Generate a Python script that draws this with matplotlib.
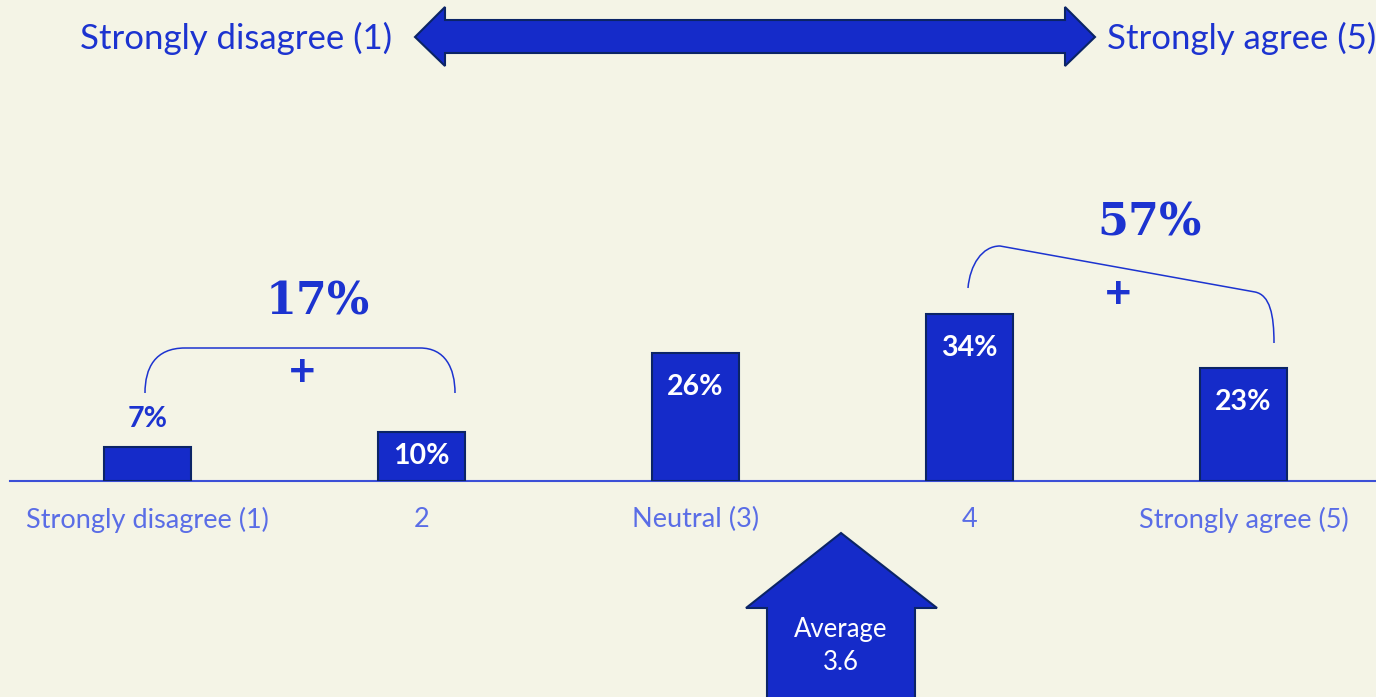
import matplotlib.pyplot as plt
from matplotlib.patches import Polygon, PathPatch
from matplotlib.path import Path

# survey answers, share of respondents in %
categories = ["Strongly disagree (1)", "2", "Neutral (3)", "4", "Strongly agree (5)"]
shares = [7, 10, 26, 34, 23]
disagree_total = 17
agree_total = 57
average = 3.6
scale_left = "Strongly disagree (1)"
scale_right = "Strongly agree (5)"

bg = '#f4f4e6'
blue = '#152bc9'
navy = '#0b2466'
text_blue = '#1c33d0'
tick_blue = '#5a6de6'
sans = ['Lato', 'DejaVu Sans']

fig = plt.figure(figsize=(13.76, 6.97), dpi=100, facecolor=bg)

# overlay in pixel coordinates for the decorations
ov = fig.add_axes([0, 0, 1, 1], facecolor='none')
ov.set_xlim(0, 1376)
ov.set_ylim(697, 0)
ov.axis('off')

# bar chart axes, baseline at y=481px
px_per_pct = 4.91
ax = fig.add_axes([10 / 1376, (697 - 481) / 697, 1366 / 1376, 381 / 697], facecolor='none')
x = list(range(len(categories)))
ax.bar(x, shares, width=0.3175, color=blue, edgecolor=navy, linewidth=1.5, zorder=3)
ax.set_xlim(-0.502, 4.484)
ax.set_ylim(0, 381 / px_per_pct)
for s in ['top', 'right', 'left']:
    ax.spines[s].set_visible(False)
ax.spines['bottom'].set_color('#3b4fd6')
ax.spines['bottom'].set_linewidth(1.5)
ax.set_yticks([])
ax.set_xticks(x)
ax.set_xticklabels(categories, color=tick_blue, fontsize=19.5, family=sans)
ax.tick_params(axis='x', length=0, pad=19)

for i, v in enumerate(shares):
    if v < 9:
        ax.annotate(f"{v}%", (i, v), xytext=(0, 20), textcoords='offset points',
                    ha='center', va='center', color=text_blue, fontsize=20.5,
                    fontweight='bold', family=sans)
    elif v < 20:
        ax.text(i, v / 2, f"{v}%", ha='center', va='center', color='white',
                fontsize=20.5, fontweight='bold', family=sans, zorder=4)
    else:
        ax.annotate(f"{v}%", (i, v), xytext=(0, -24.5), textcoords='offset points',
                    ha='center', va='center', color='white', fontsize=20.5,
                    fontweight='bold', family=sans, zorder=4)

# top double arrow
dbl = [(415, 37), (445, 7), (445, 20), (1065, 20), (1065, 7), (1095, 37),
       (1065, 66), (1065, 53), (445, 53), (445, 66)]
ov.add_patch(Polygon(dbl, closed=True, facecolor=blue, edgecolor=navy, linewidth=1.5))
ov.text(392, 38, scale_left, ha='right', va='center', color=text_blue, fontsize=25, family=sans)
ov.text(1107, 38, scale_right, ha='left', va='center', color=text_blue, fontsize=25, family=sans)

# brackets
C4, L2 = Path.CURVE4, Path.LINETO
left_br = Path([(145, 393), (145, 368), (155, 348), (185, 348), (420, 348),
                (445, 348), (455, 368), (455, 393)],
               [Path.MOVETO, C4, C4, C4, L2, C4, C4, C4])
right_br = Path([(968, 288), (970, 265), (982, 246), (1000, 246), (1255, 292),
                 (1270, 295), (1274, 315), (1274, 343)],
                [Path.MOVETO, C4, C4, C4, L2, C4, C4, C4])
for p in (left_br, right_br):
    ov.add_patch(PathPatch(p, facecolor='none', edgecolor=text_blue, linewidth=1.1))
ov.text(302, 373, '+', ha='center', va='center', color=text_blue, fontsize=33,
        fontweight='bold', family=sans)
ov.text(1118, 295, '+', ha='center', va='center', color=text_blue, fontsize=33,
        fontweight='bold', family=sans)
ov.text(318, 302, f"{disagree_total}%", ha='center', va='center', color=text_blue,
        fontsize=32, fontweight='bold', family='DejaVu Serif')
ov.text(1150, 223, f"{agree_total}%", ha='center', va='center', color=text_blue,
        fontsize=32, fontweight='bold', family='DejaVu Serif')

# average arrow
up = [(841, 533), (937, 608), (915, 608), (915, 705), (767, 705), (767, 608), (746, 608)]
ov.add_patch(Polygon(up, closed=True, facecolor=blue, edgecolor=navy, linewidth=1.5))
ov.text(841, 630, "Average", ha='center', va='center', color='white', fontsize=18.5, family=sans)
ov.text(841, 662, f"{average}", ha='center', va='center', color='white', fontsize=18.5, family=sans)

fig.savefig('out.png', dpi=100, facecolor=bg)
